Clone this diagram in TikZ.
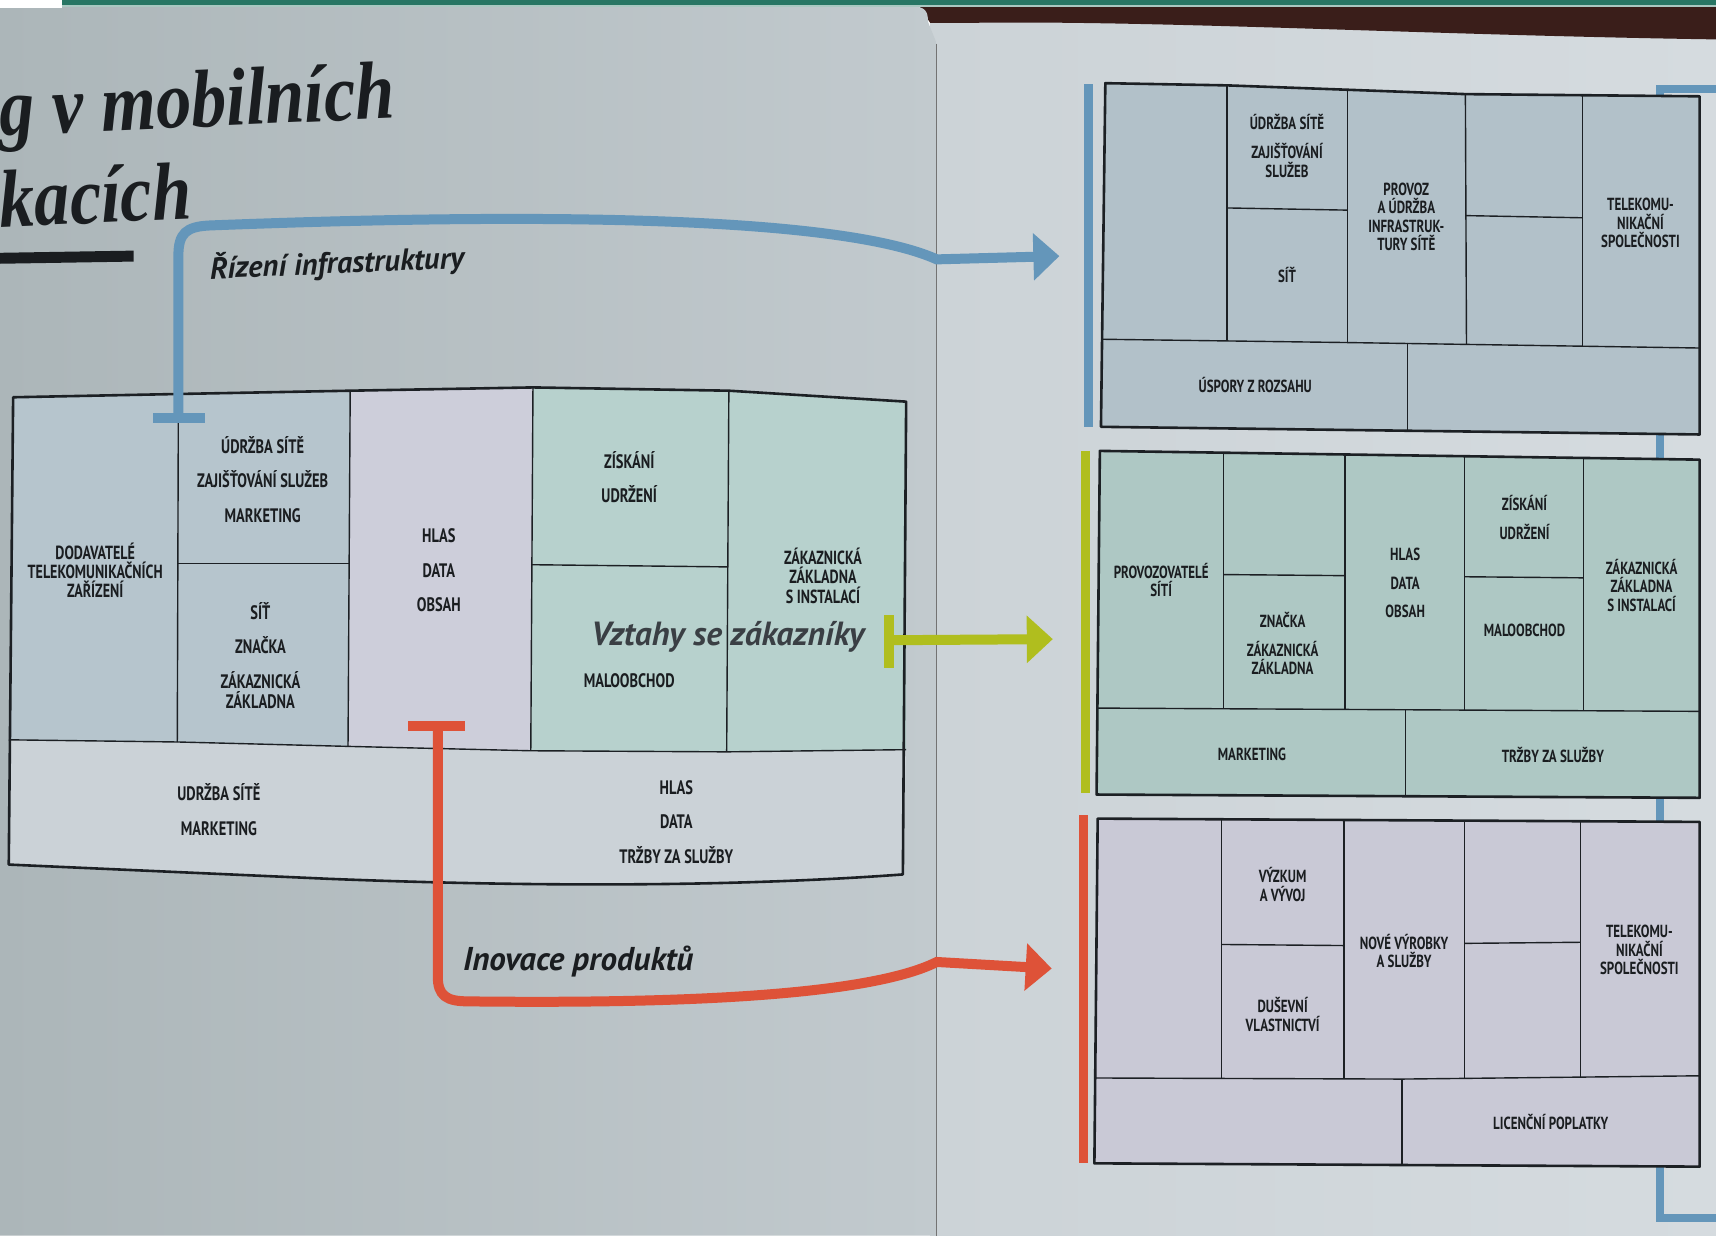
\documentclass[tikz,border=0pt]{standalone}
\usepackage{fontspec}
\usetikzlibrary{arrows.meta}
\newfontfamily\cellfont[FakeStretch=0.74]{PT Sans}
\newfontfamily\labfont{PT Sans}
\newfontfamily\titlefont[FakeStretch=0.86]{Liberation Serif}
\definecolor{pgL}{RGB}{172,182,185}
\definecolor{pgM}{RGB}{204,211,215}
\definecolor{pgR}{RGB}{194,202,206}
\definecolor{rpL}{RGB}{204,211,215}
\definecolor{rpR}{RGB}{213,219,223}
\definecolor{wood}{RGB}{58,30,26}
\definecolor{topteal}{RGB}{40,118,100}
\definecolor{ln}{RGB}{28,32,36}
\definecolor{txt}{RGB}{26,29,32}
\definecolor{gtxt}{RGB}{58,63,68}
\definecolor{fblue}{RGB}{182,197,205}
\definecolor{flav}{RGB}{205,206,218}
\definecolor{fgreen}{RGB}{183,209,205}
\definecolor{fgrey}{RGB}{203,210,215}
\definecolor{fAblue}{RGB}{178,193,201}
\definecolor{fBgreen}{RGB}{174,200,196}
\definecolor{fClav}{RGB}{201,201,214}
\definecolor{cblue}{RGB}{100,150,186}
\definecolor{cgreen}{RGB}{176,190,30}
\definecolor{cred}{RGB}{222,82,56}
\tikzset{
  cellL/.style={font=\cellfont\bfseries\fontsize{19.5}{20.5}\selectfont, align=center, text=txt, inner sep=0pt},
  cellR/.style={font=\cellfont\bfseries\fontsize{17.5}{18.5}\selectfont, align=center, text=txt, inner sep=0pt},
  outline/.style={draw=ln, line width=2.6pt, line join=round},
  innerln/.style={draw=ln, line width=1.4pt},
  conn/.style={line width=10pt},
  tbar/.style={line width=10pt},
  sidebar/.style={line width=9pt},
  lab/.style={font=\labfont\bfseries\itshape\fontsize{30.5}{32}\selectfont, text=txt, inner sep=0pt},
  tip/.style={-{Triangle[length=26pt,width=46pt]}},
  titl/.style={anchor=base east, font=\titlefont\itshape\bfseries\fontsize{82}{84}\selectfont, text=txt, inner sep=0pt, rotate=2.5}
}
\begin{document}
\begin{tikzpicture}[x=1.0944pt,y=-1.0944pt]
\useasboundingbox (0,0) rectangle (1568,1129);
\begin{scope}
\clip (0,0) rectangle (1568,1129);
% ---------- background (photographed pages) ----------
\shade[left color=rpL, right color=rpR] (850,6) rectangle (1568,1129);
\fill[wood] (840,6) -- (1568,6) -- (1568,36) .. controls (1300,32) and (1050,18) .. (880,21) -- (850,21) -- cycle;
\shade[left color=pgL, middle color=pgM, right color=pgR] (0,6) -- (834,6) .. controls (845,6) and (848,10) .. (848,20) -- (856,40) -- (856,1129) -- (0,1129) -- cycle;
\draw[black!55, line width=0.8pt] (856,40) -- (856,1129);
\fill[white] (0,0) rectangle (57,7);
\fill[topteal] (57,0) rectangle (1568,5);
\fill[topteal!40!white] (57,5) rectangle (1568,6.5);
% ---------- title ----------
\node[titl] (title1) at (362,108) {g v mobilních};
\node[titl] (title2) at (176,200) {kacích};
\fill[txt] (0,231) -- (122,229) -- (122,239) -- (0,241) -- cycle;
% ---------- left canvas ----------
\fill[fblue] (12,363) -- (163,360) -- (320,357) -- (318,682) -- (163,678) -- (8,676) -- cycle;
\fill[flav] (320,357) -- (487,354) -- (485,686) -- (318,682) -- cycle;
\fill[fgreen] (487,354) -- (666,357) -- (828,367) -- (828,685) -- (664,687) -- (485,686) -- cycle;
\fill[fgrey] (8,676) -- (163,678) -- (318,682) -- (485,686) -- (664,687) -- (828,685) -- (825,799) .. controls (650,812) and (450,809) .. (300,803) -- (8,790) -- cycle;
\draw[innerln] (8,676) -- (163,678) -- (318,682) -- (485,686) -- (664,687) -- (828,685);
\draw[innerln] (163,360) -- (162,678);
\draw[innerln] (320,357) -- (318,682);
\draw[innerln] (487,354) -- (485,686);
\draw[innerln] (666,357) -- (664,687);
\draw[innerln] (163,515) -- (319,515);
\draw[innerln] (486,516) -- (665,518);
\draw[outline] (12,363) -- (163,360) -- (320,357) -- (487,354) -- (666,357) -- (828,367) -- (825,799) .. controls (650,812) and (450,809) .. (300,803) -- (8,790) -- cycle;
\node[cellL, font=\cellfont\bfseries\fontsize{19}{19}\selectfont] (Ldod) at (87,521) {DODAVATELÉ\\TELEKOMUNIKAČNÍCH\\ZAŘÍZENÍ};
\node[cellL] (Lact) at (240,438) {ÚDRŽBA SÍTĚ\\[14pt]ZAJIŠŤOVÁNÍ SLUŽEB\\[14pt]MARKETING};
\node[cellL] (Lres) at (238,599) {SÍŤ\\[14pt]ZNAČKA\\[14pt]ZÁKAZNICKÁ\\ZÁKLADNA};
\node[cellL] (Lval) at (401,521) {HLAS\\[14pt]DATA\\[14pt]OBSAH};
\node[cellL] (Lrel) at (575,436) {ZÍSKÁNÍ\\[14pt]UDRŽENÍ};
\node[cellL] (Lchan) at (575,622) {MALOOBCHOD};
\node[cellL, font=\cellfont\bfseries\fontsize{19}{19.5}\selectfont] (Lseg) at (752,526) {ZÁKAZNICKÁ\\ZÁKLADNA\\S INSTALACÍ};
\node[lab, text=gtxt, font=\labfont\bfseries\itshape\fontsize{33.5}{35}\selectfont] (Lvzt) at (665,582) {Vztahy se zákazníky};
\node[cellL] (Lcost) at (200,740) {UDRŽBA SÍTĚ\\[14pt]MARKETING};
\node[cellL] (Lrev) at (618,751) {HLAS\\[14pt]DATA\\[14pt]TRŽBY ZA SLUŽBY};
% ---------- right page blue bracket ----------
\draw[cblue, line width=8pt] (1568,81) -- (1517,81) -- (1517,1113) -- (1568,1113);
% ---------- box A (infrastructure) ----------
\fill[fAblue] (1010,76) -- (1121,78) -- (1231,82) -- (1339,86) -- (1553,88) -- (1553,397) -- (1006,390) -- cycle;
\draw[innerln] (1008,310) -- (1231,313) -- (1553,318);
\draw[innerln] (1121,78) -- (1121,311);
\draw[innerln] (1231,82) -- (1231,313);
\draw[innerln] (1339,86) -- (1340,315);
\draw[innerln] (1446,87) -- (1446,317);
\draw[innerln] (1121,190) -- (1231,192);
\draw[innerln] (1339,197) -- (1446,199);
\draw[innerln] (1286,313) -- (1286,393);
\draw[outline] (1010,76) -- (1121,78) -- (1231,82) -- (1339,86) -- (1553,88) -- (1553,397) -- (1006,390) -- cycle;
\node[cellR] (Aact) at (1176,133) {ÚDRŽBA SÍTĚ\\[11pt]ZAJIŠŤOVÁNÍ\\SLUŽEB};
\node[cellR] (Ares) at (1176,251) {SÍŤ};
\node[cellR] (Aval) at (1285,198) {PROVOZ\\A ÚDRŽBA\\INFRASTRUK-\\TURY SÍTĚ};
\node[cellR] (Aseg) at (1499,204) {TELEKOMU-\\NIKAČNÍ\\SPOLEČNOSTI};
\node[cellR] (Acost) at (1147,352) {ÚSPORY Z ROZSAHU};
\draw[cblue, sidebar] (995,77) -- (995,390);
% ---------- box B (customers) ----------
\fill[fBgreen] (1005,412) -- (1553,420) -- (1553,729) -- (1002,726) -- cycle;
\draw[innerln] (1003,647) -- (1553,650);
\draw[innerln] (1118,413) -- (1118,648);
\draw[innerln] (1229,414) -- (1229,648);
\draw[innerln] (1338,416) -- (1338,649);
\draw[innerln] (1447,418) -- (1447,649);
\draw[innerln] (1118,525) -- (1229,526);
\draw[innerln] (1338,527) -- (1447,528);
\draw[innerln] (1284,649) -- (1284,727);
\draw[outline] (1005,412) -- (1553,420) -- (1553,729) -- (1002,726) -- cycle;
\node[cellR] (Bpart) at (1061,530) {PROVOZOVATELÉ\\SÍTÍ};
\node[cellR] (Bres) at (1172,588) {ZNAČKA\\[10pt]ZÁKAZNICKÁ\\ZÁKLADNA};
\node[cellR] (Bval) at (1284,533) {HLAS\\[10pt]DATA\\[10pt]OBSAH};
\node[cellR] (Brel) at (1393,473) {ZÍSKÁNÍ\\[10pt]UDRŽENÍ};
\node[cellR] (Bchan) at (1393,576) {MALOOBCHOD};
\node[cellR] (Bseg) at (1500,535) {ZÁKAZNICKÁ\\ZÁKLADNA\\S INSTALACÍ};
\node[cellR] (Bcost) at (1144,689) {MARKETING};
\node[cellR] (Brev) at (1419,690) {TRŽBY ZA SLUŽBY};
\draw[cgreen, sidebar] (992,412) -- (992,725);
% ---------- box C (products) ----------
\fill[fClav] (1003,748) -- (1553,751) -- (1553,1066) -- (1000,1063) -- cycle;
\draw[innerln] (1000,985) -- (1281,986) -- (1553,983);
\draw[innerln] (1116,749) -- (1116,985);
\draw[innerln] (1228,749) -- (1228,986);
\draw[innerln] (1338,750) -- (1338,985);
\draw[innerln] (1444,751) -- (1444,984);
\draw[innerln] (1116,863) -- (1228,864);
\draw[innerln] (1338,862) -- (1444,861);
\draw[innerln] (1281,986) -- (1281,1064);
\draw[outline] (1003,748) -- (1553,751) -- (1553,1066) -- (1000,1063) -- cycle;
\node[cellR] (Cact) at (1172,808) {VÝZKUM\\A VÝVOJ};
\node[cellR] (Cres) at (1172,927) {DUŠEVNÍ\\VLASTNICTVÍ};
\node[cellR] (Cval) at (1283,869) {NOVÉ VÝROBKY\\A SLUŽBY};
\node[cellR] (Cseg) at (1498,868) {TELEKOMU-\\NIKAČNÍ\\SPOLEČNOSTI};
\node[cellR] (Crev) at (1417,1025) {LICENČNÍ POPLATKY};
\draw[cred, sidebar] (990,745) -- (990,1063);
% ---------- connectors ----------
\coordinate (bT) at (163,382);
\coordinate (bTip) at (968,234);
\coordinate (gT) at (812,585);
\coordinate (gTip) at (962,584);
\coordinate (rT) at (400,663);
\coordinate (rTip) at (961,885);
\draw[cblue, tbar] (140,382) -- (187,382);
\draw[cblue, conn, tip] (bT) -- (163,234) .. controls (163,213) and (170,207) .. (192,206) .. controls (450,196) and (760,194) .. (856,237) -- (bTip);
\draw[cgreen, tbar] (812,562) -- (812,610);
\draw[cgreen, conn, tip] (gT) -- (gTip);
\draw[cred, tbar] (373,663) -- (425,663);
\draw[cred, conn, tip] (rT) -- (400,892) .. controls (400,910) and (408,915) .. (428,915) .. controls (600,917) and (790,912) .. (856,879) -- (rTip);
\node[lab, anchor=base west, rotate=2.5] (infra) at (192,255) {Řízení infrastruktury};
\node[lab, anchor=base west, font=\labfont\bfseries\itshape\fontsize{33}{35}\selectfont] (inov) at (423,887) {Inovace produktů};
\end{scope}
\end{tikzpicture}
\end{document}
